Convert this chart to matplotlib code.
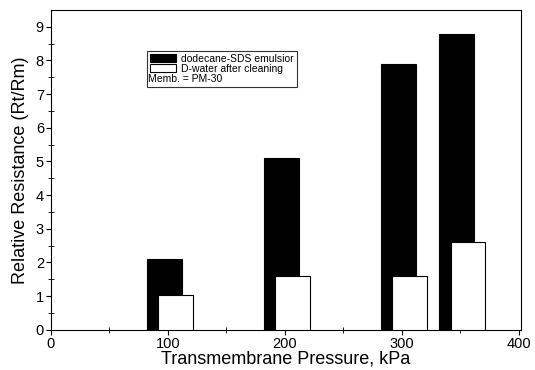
import numpy as np
import matplotlib
matplotlib.use("Agg")
import matplotlib.pyplot as plt
from matplotlib.patches import Rectangle

plt.rcParams['font.family'] = ['Liberation Sans', 'DejaVu Sans']

pressure = [100, 200, 300, 350]
emulsion = [2.1, 5.1, 7.9, 8.8]
dwater = [1.03, 1.6, 1.6, 2.6]
labels = ["dodecane-SDS emulsior", "D-water after cleaning"]

fig = plt.figure(figsize=(5.35, 3.7), dpi=100)
ax = fig.add_axes([0.095, 0.109, 0.879, 0.864])

x = np.array(pressure)
ax.bar(x - 3, emulsion, width=30, color='black', edgecolor='black', linewidth=0.8,
       label=labels[0], zorder=2)
ax.bar(x + 6.5, dwater, width=29.5, color='white', edgecolor='black', linewidth=0.8,
       label=labels[1], zorder=3)

ax.set_xlim(0, 402)
ax.set_ylim(0, 9.5)
ax.set_xticks([0, 100, 200, 300, 400])
ax.set_xticks([50, 150, 250, 350], minor=True)
ax.set_yticks(range(0, 10))
ax.set_yticks(np.arange(0.5, 9.5, 1), minor=True)
ax.tick_params(which='major', direction='out', length=3.5, width=0.8, labelsize=10.5, pad=1.5)
ax.tick_params(which='minor', direction='inout', length=4, width=0.6)
for s in ax.spines.values():
    s.set_linewidth(0.8)

ax.set_xlabel("Transmembrane Pressure, kPa", fontsize=13, labelpad=0)
ax.set_ylabel("Relative Resistance (Rt/Rm)", fontsize=13, labelpad=5)

handles, _ = ax.get_legend_handles_labels()
extra = Rectangle((0, 0), 1, 1, fc='none', ec='none')
leg = ax.legend(handles + [extra], labels + ["Memb. = PM-30"], fontsize=7.5,
                loc='upper left', bbox_to_anchor=(0.204, 0.873),
                frameon=True, fancybox=False, edgecolor='black',
                handlelength=2.5, handleheight=0.75, handletextpad=0.5,
                borderpad=0.3, labelspacing=0.0, borderaxespad=0)
leg.get_frame().set_linewidth(0.8)
# third entry has no marker, shift its text left
leg.get_texts()[2].set_position((-33, 0))

fig.savefig("out.png", dpi=100)
